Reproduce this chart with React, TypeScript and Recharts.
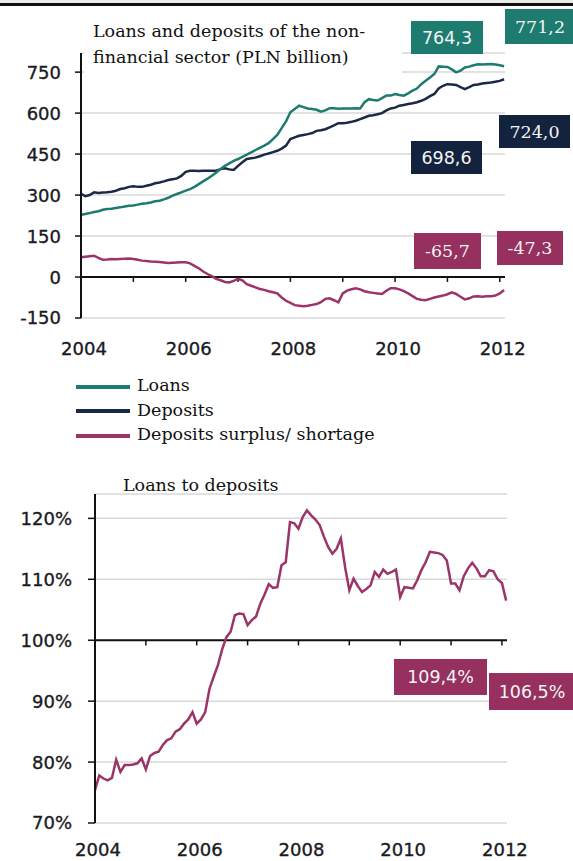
import React from 'react';
import { LineChart, Line, XAxis, YAxis, CartesianGrid, ReferenceLine } from 'recharts';

// monthly, Jan 2004 .. Feb 2012 (PLN bn)
const loans = [
  228, 231, 234, 238, 241, 246, 249, 250, 253, 255, 258, 261,
  262, 265, 268, 270, 273, 277, 279, 284, 290, 298, 304, 310,
  316, 322, 330, 340, 350, 360, 371, 383, 395, 407, 416, 425,
  432, 440, 448, 456, 465, 473, 481, 490, 505, 520, 545, 570,
  603, 615, 627, 622, 617, 615, 612, 605, 610, 618, 618, 616,
  617, 617, 617, 618, 617, 640, 651, 648, 646, 655, 664, 664,
  670, 666, 664, 672, 682, 690, 706, 718, 730, 743, 771, 770,
  769, 760, 749, 755, 767, 770, 775, 779, 778, 779, 780, 778,
  775, 771.2,
];

const deposits = [
  304, 296, 300, 310, 308, 309, 310, 312, 316, 322, 325, 330,
  332, 330, 330, 334, 338, 343, 346, 350, 355, 358, 361, 370,
  385, 389, 389, 388, 389, 389, 389, 389, 395, 398, 394, 392,
  407, 420, 432, 435, 437, 442, 448, 452, 457, 462, 470, 481,
  505, 511, 517, 520, 523, 527, 535, 537, 541, 548, 555, 563,
  563, 565, 568, 572, 578, 584, 590, 592, 596, 600, 610, 617,
  620, 627, 630, 633, 636, 640, 645, 652, 662, 670, 690, 700,
  706, 705, 703, 695, 688, 695, 703, 705, 708, 710, 712, 715,
  718, 724,
];

const surplus = [
  72, 74, 76, 78, 70, 63, 64, 66, 65, 66, 67, 68,
  66, 63, 60, 59, 57, 56, 55, 53, 51, 52, 53, 54,
  54, 50, 41, 32, 20, 11, 3, -7, -12, -18, -20, -14,
  -7, -12, -26, -32, -38, -44, -47, -52, -56, -60, -75, -87,
  -95, -103, -105, -107, -105, -102, -99, -92, -80, -78, -85, -93,
  -60, -50, -45, -41, -45, -52, -56, -58, -60, -62, -50, -41,
  -41, -45, -52, -60, -70, -80, -83, -85, -80, -75, -71, -68,
  -63, -56, -62, -72, -82, -78, -71, -70, -72, -70, -70, -68,
  -60, -47.3,
];

// loans to deposits, %
const ratio = [
  75.4, 77.8, 77.3, 77.0, 77.4, 80.4, 78.4, 79.5, 79.5, 79.6, 79.8, 80.6,
  78.8, 81.0, 81.5, 81.7, 82.8, 83.6, 83.9, 85.0, 85.4, 86.3, 87.0, 88.2,
  86.3, 87.0, 88.2, 92.0, 94.0, 95.9, 98.5, 100.5, 101.4, 104.1, 104.4, 104.3,
  102.5, 103.3, 103.9, 106.0, 107.5, 109.2, 108.6, 108.7, 112.3, 112.8, 119.4, 119.2,
  118.3, 120.2, 121.3, 120.5, 119.8, 118.9, 117.0, 115.3, 114.2, 115.0, 116.7, 112.0,
  108.2, 110.1, 108.9, 107.9, 108.4, 109.0, 111.2, 110.4, 111.6, 110.9, 111.2, 111.6,
  107.1, 108.7, 108.6, 108.5, 109.8, 111.5, 112.8, 114.5, 114.4, 114.3, 114.0, 113.1,
  109.3, 109.3, 108.2, 110.5, 111.8, 112.7, 111.8, 110.5, 110.5, 111.5, 111.3, 110.0,
  109.4, 106.5,
];

const yearTicks = [2005, 2006, 2007, 2008, 2009, 2010, 2011, 2012];
const yearLabels = [2004, 2006, 2008, 2010, 2012];
const topTicks = [-150, 0, 150, 300, 450, 600, 750];
const ratioTicks = [70, 80, 90, 100, 110, 120];

const TEAL = '#1d7b6f';
const NAVY = '#1b2945';
const PLUM = '#9b3468';
const GRID = '#d9d9d9';
const SERIF = '"DejaVu Serif", serif';
const SANS = '"DejaVu Sans", sans-serif';

const topData = loans.map((v, i) => ({ t: 2004 + i / 12, loans: v, deposits: deposits[i], surplus: surplus[i] }));
const ratioData = ratio.map((v, i) => ({ t: 2004 + i / 12, ratio: v }));

const tickFont = {
  fontFamily: SANS,
  fontSize: 18,
  fill: '#1a1a24',
  stroke: '#1a1a24',
  strokeWidth: 0.35,
};

const YTick = ({ x, y, payload, suffix = '' }: any) => (
  <text x={x} y={y} dy="0.36em" textAnchor="end" style={tickFont}>
    {payload.value + suffix}
  </text>
);

const XTick = ({ x, y, payload }: any) => (
  <text x={x + 3} y={y} dy="0.71em" textAnchor="middle" style={tickFont}>
    {payload.value}
  </text>
);

const boxes = [
  { text: '764,3', left: 411, top: 21, w: 72, h: 33, bg: TEAL, font: 'sans' },
  { text: '771,2', left: 505, top: 9, w: 70, h: 35, bg: TEAL, font: 'serif' },
  { text: '724,0', left: 499, top: 115, w: 71, h: 33, bg: '#13233e', font: 'serif' },
  { text: '698,6', left: 411, top: 141, w: 71, h: 33, bg: '#13233e', font: 'sans' },
  { text: '-65,7', left: 414, top: 233, w: 67, h: 36, bg: '#95305f', font: 'serif' },
  { text: '-47,3', left: 497, top: 231, w: 66, h: 34, bg: '#95305f', font: 'serif' },
  { text: '109,4%', left: 394, top: 659, w: 93, h: 36, bg: '#95305f', font: 'sans' },
  { text: '106,5%', left: 489, top: 673, w: 86, h: 37, bg: '#95305f', font: 'sans' },
];

const legend = [
  { name: 'Loans', color: TEAL },
  { name: 'Deposits', color: NAVY },
  { name: 'Deposits surplus/ shortage', color: PLUM },
];

export default function App() {
  return (
    <div style={{ position: 'absolute', left: 0, top: 0, width: 573, height: 861, background: '#fff', overflow: 'hidden' }}>
      <div style={{ position: 'absolute', left: 0, top: 0, width: 573, height: 3, background: '#ececec' }} />
      <div style={{ position: 'absolute', left: 0, top: 3, width: 573, height: 3, background: '#111' }} />

      <div style={{ position: 'absolute', left: 0, top: 0 }}>
        <LineChart width={573} height={370} data={topData} margin={{ top: 53, right: 68, bottom: 12, left: 0 }}>
          <CartesianGrid vertical={false} stroke={GRID} strokeWidth={1.5} />
          <XAxis
            dataKey="t"
            type="number"
            domain={[2004, 2012.1]}
            ticks={yearLabels}
            axisLine={false}
            tickLine={false}
            tickSize={6}
            tickMargin={18}
            height={40}
            tick={<XTick />}
          />
          <YAxis
            type="number"
            domain={[-150, 820]}
            ticks={topTicks}
            width={81}
            axisLine={{ stroke: '#111', strokeWidth: 2 }}
            tickLine={{ stroke: '#111', strokeWidth: 1.5 }}
            tickSize={6}
            tickMargin={14}
            tick={<YTick />}
          />
          <ReferenceLine y={0} stroke="#111" strokeWidth={2} />
          {yearTicks.map(yr => (
            <ReferenceLine key={yr} segment={[{ x: yr, y: 0 }, { x: yr, y: -18 }]} stroke="#111" strokeWidth={1.5} />
          ))}
          <Line dataKey="surplus" stroke={PLUM} strokeWidth={2.5} dot={false} isAnimationActive={false} />
          <Line dataKey="deposits" stroke={NAVY} strokeWidth={2.5} dot={false} isAnimationActive={false} />
          <Line dataKey="loans" stroke={TEAL} strokeWidth={2.5} dot={false} isAnimationActive={false} />
        </LineChart>
      </div>

      <div style={{ position: 'absolute', left: 0, top: 460 }}>
        <LineChart width={573} height={401} data={ratioData} margin={{ top: 34, right: 66, bottom: 8, left: 0 }}>
          <CartesianGrid vertical={false} stroke={GRID} strokeWidth={1.5} />
          <XAxis
            dataKey="t"
            type="number"
            domain={[2004, 2012.1]}
            ticks={yearLabels}
            axisLine={false}
            tickLine={false}
            tickSize={6}
            tickMargin={14}
            height={30}
            tick={<XTick />}
          />
          <YAxis
            type="number"
            domain={[70, 124]}
            ticks={ratioTicks}
            width={95}
            axisLine={{ stroke: '#111', strokeWidth: 2 }}
            tickLine={{ stroke: '#111', strokeWidth: 1.5 }}
            tickSize={7}
            tickMargin={16}
            tick={<YTick suffix="%" />}
          />
          <ReferenceLine y={100} stroke="#111" strokeWidth={2} />
          {yearTicks.map(yr => (
            <ReferenceLine key={yr} segment={[{ x: yr, y: 100 }, { x: yr, y: 99.15 }]} stroke="#111" strokeWidth={1.5} />
          ))}
          <Line dataKey="ratio" stroke={PLUM} strokeWidth={2.5} dot={false} isAnimationActive={false} />
        </LineChart>
      </div>

      {/* title of the upper chart sits on a white box over the 750 grid line */}
      <div
        style={{
          position: 'absolute', left: 84, top: 12, width: 318, height: 62, background: '#fff',
          fontFamily: SERIF, fontSize: 17.5, lineHeight: '26px', color: '#111', paddingLeft: 9, paddingTop: 6,
          boxSizing: 'border-box',
        }}
      >
        Loans and deposits of the non-
        <br />
        financial sector (PLN billion)
      </div>

      <div style={{ position: 'absolute', left: 76, top: 373, fontFamily: SERIF, fontSize: 17.5, lineHeight: '24.5px', color: '#111' }}>
        {legend.map(l => (
          <div key={l.name} style={{ display: 'flex', alignItems: 'center' }}>
            <div style={{ width: 54, height: 4, background: l.color, marginRight: 7, marginTop: 3 }} />
            <span>{l.name}</span>
          </div>
        ))}
      </div>

      <div style={{ position: 'absolute', left: 123, top: 472, fontFamily: SERIF, fontSize: 17.5, lineHeight: '26px', color: '#111' }}>
        Loans to deposits
      </div>

      {boxes.map(b => (
        <div
          key={b.text}
          style={{
            position: 'absolute', left: b.left, top: b.top, width: b.w, height: b.h, background: b.bg,
            color: '#f4f4f4', display: 'flex', alignItems: 'center', justifyContent: 'center',
            fontFamily: b.font === 'serif' ? SERIF : SANS, fontSize: 17.5,
          }}
        >
          {b.text}
        </div>
      ))}
    </div>
  );
}
